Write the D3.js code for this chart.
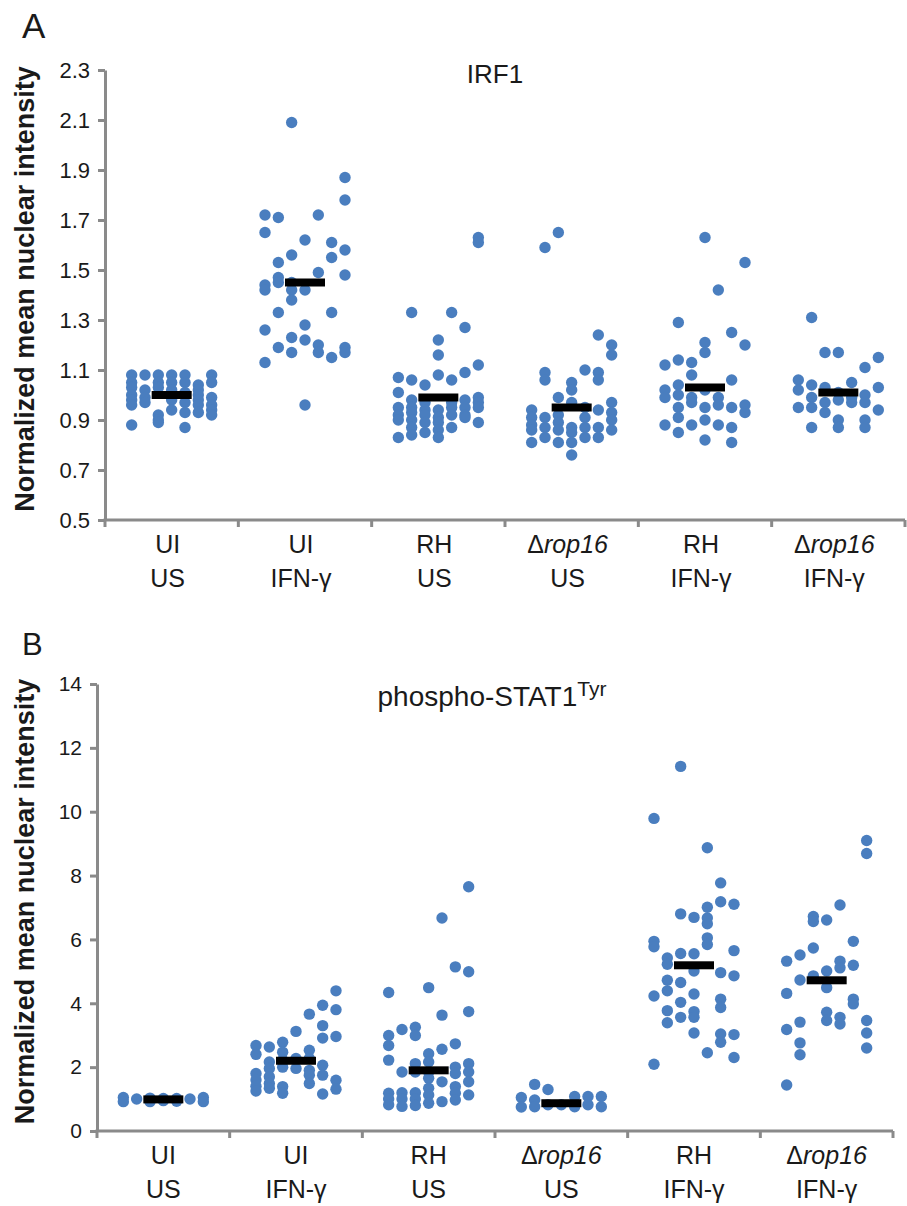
<!DOCTYPE html>
<meta charset="utf-8">
<style>
    body { margin: 0; background: #fff; }
    svg { font-family: "Liberation Sans", Arial, sans-serif; }
    text { fill: #1a1a1a; }
    .axis path, .axis line { stroke: #8a8a8a; stroke-width: 3; fill: none; }
    .dot { fill: #4a7ebf; }
    .mean { fill: #000; }
</style>
<body>
<script src="https://d3js.org/d3.v7.min.js"></script>
<script>
// categories (two-line labels)
var catTop = ["UI", "UI", "RH", "\u0394rop16", "RH", "\u0394rop16"];
var catBottom = ["US", "IFN-\u03b3", "US", "US", "IFN-\u03b3", "IFN-\u03b3"];
// column offsets of the scatter (-3 .. 3) inside each category
var columns = [-3, -2, -1, 0, 1, 2, 3];

// panel A, IRF1: per category, per column, the values
var irf1Values = [
    [[1.08, 1.05, 1.03, 1.00, 0.98, 0.96, 0.88], [1.08, 1.02, 0.99, 0.97], [1.08, 1.05, 1.03, 0.92, 0.90, 0.89],
     [1.08, 1.05, 1.02, 0.98, 0.94], [1.08, 1.05, 1.01, 0.97, 0.93, 0.87], [1.04, 1.02, 1.00, 0.98, 0.96, 0.93],
     [1.08, 1.05, 0.99, 0.96, 0.94, 0.92]],
    [[1.72, 1.65, 1.44, 1.42, 1.26, 1.13], [1.71, 1.53, 1.47, 1.45, 1.33, 1.19], [2.09, 1.56, 1.45, 1.42, 1.38, 1.23, 1.17],
     [1.62, 1.42, 1.28, 1.22, 0.96], [1.72, 1.49, 1.20, 1.17], [1.61, 1.55, 1.33, 1.15],
     [1.87, 1.78, 1.58, 1.48, 1.19, 1.17]],
    [[1.07, 1.01, 0.95, 0.92, 0.90, 0.83], [1.33, 1.06, 0.98, 0.95, 0.93, 0.90, 0.87, 0.84], [1.04, 0.97, 0.94, 0.92, 0.89, 0.85],
     [1.22, 1.16, 1.08, 0.94, 0.91, 0.89, 0.86, 0.83], [1.33, 1.06, 0.97, 0.95, 0.92, 0.87], [1.27, 1.09, 0.98, 0.95, 0.92, 0.91],
     [1.63, 1.61, 1.12, 0.99, 0.97, 0.95, 0.89]],
    [[0.94, 0.91, 0.88, 0.86, 0.81], [1.59, 1.09, 1.06, 0.91, 0.87, 0.83], [1.65, 0.99, 0.92, 0.89, 0.86, 0.81],
     [1.05, 1.02, 0.97, 0.87, 0.85, 0.81, 0.76], [1.10, 0.95, 0.91, 0.87, 0.83], [1.24, 1.09, 1.06, 0.94, 0.87, 0.83],
     [1.20, 1.16, 0.97, 0.93, 0.90, 0.86]],
    [[1.12, 1.02, 0.99, 0.88], [1.29, 1.14, 1.04, 1.00, 0.95, 0.91, 0.85], [1.13, 1.08, 0.99, 0.97, 0.88],
     [1.63, 1.21, 1.17, 1.02, 0.95, 0.90, 0.82], [1.42, 0.99, 0.96, 0.88], [1.25, 1.06, 0.95, 0.87, 0.81],
     [1.53, 1.20, 0.96, 0.93]],
    [[1.06, 1.02, 0.95], [1.31, 1.04, 0.99, 0.95, 0.87], [1.17, 1.03, 0.97, 0.93],
     [1.17, 1.01, 0.98, 0.90, 0.87], [1.05, 0.99, 0.97], [1.11, 1.00, 0.97, 0.90, 0.87],
     [1.15, 1.03, 0.94]]
];
var irf1Means = [1.00, 1.45, 0.99, 0.95, 1.03, 1.01];
var irf1Ticks = [0.5, 0.7, 0.9, 1.1, 1.3, 1.5, 1.7, 1.9, 2.1, 2.3];

// panel B, phospho-STAT1 Tyr
var statValues = [
    [[1.05, 0.92], [1.00], [1.03, 0.92], [1.02, 0.95], [1.02, 0.93], [1.00], [1.05, 0.92]],
    [[2.68, 2.40, 1.80, 1.60, 1.40, 1.25], [2.63, 2.16, 1.96, 1.70, 1.49, 1.34], [2.78, 2.47, 2.22, 2.00, 1.39, 1.18],
     [3.12, 2.27, 1.96], [3.66, 2.53, 2.27, 1.90, 1.75, 1.49], [3.94, 3.30, 2.91, 2.06, 1.75, 1.16],
     [4.39, 3.80, 2.96, 1.59, 1.31]],
    [[4.34, 2.99, 2.68, 2.22, 1.18, 1.00, 0.82], [3.18, 1.85, 1.20, 1.00, 0.77], [3.25, 2.99, 2.11, 1.85, 1.20, 1.00, 0.80],
     [4.49, 2.42, 2.16, 1.85, 1.65, 1.34, 1.13, 0.87], [6.67, 3.63, 2.56, 1.54, 0.92], [5.14, 2.73, 2.00, 1.80, 1.39, 1.18, 0.97],
     [7.65, 4.99, 3.74, 2.11, 1.85, 1.54, 1.13]],
    [[1.05, 0.75], [1.46, 0.97, 0.76], [1.30, 0.82], [0.82], [1.08, 0.76], [1.08, 0.82], [1.08, 0.76]],
    [[9.79, 5.94, 5.77, 4.23, 2.09], [5.42, 5.22, 4.72, 4.39, 3.77, 3.39], [11.42, 6.80, 5.56, 4.65, 4.03, 3.56],
     [6.69, 5.55, 5.01, 4.29, 3.74, 3.56, 3.07], [8.87, 7.01, 6.67, 6.49, 6.05, 5.84, 2.45], [7.77, 7.18, 4.96, 4.13, 3.87, 3.04, 2.78],
     [7.10, 5.65, 4.86, 3.02, 2.30]],
    [[5.32, 4.31, 3.18, 1.44], [5.51, 4.73, 3.41, 2.76, 2.39], [6.72, 6.56, 5.73, 4.86],
     [6.61, 5.01, 4.49, 3.72, 3.46], [7.08, 5.32, 5.11, 3.56, 3.35], [5.94, 5.19, 4.13, 3.98],
     [9.10, 8.69, 3.46, 3.07, 2.60]]
];
var statMeans = [0.99, 2.20, 1.90, 0.87, 5.19, 4.72];
var statTicks = [0, 2, 4, 6, 8, 10, 12, 14];

var svg = d3.select("body").append("svg")
    .attr("width", 907)
    .attr("height", 1206);

function drawPanel(p) {
    var x = d3.scaleBand().domain(d3.range(catTop.length)).range([p.left, p.right]);
    var col = d3.scaleLinear().domain([-3, 3]).range([-40, 40]);
    var y = d3.scaleLinear().domain(p.domain).range([p.bottom, p.top]);
    var g = svg.append("g");

    // panel letter
    g.append("text").attr("x", 22).attr("y", p.letterY)
        .style("font-size", p.letterSize + "px").text(p.letter);

    // y axis
    var yAxis = d3.axisLeft(y).tickValues(p.ticks).tickFormat(p.format)
        .tickSize(7).tickSizeOuter(0).tickPadding(8);
    var ya = g.append("g").attr("class", "axis")
        .attr("transform", "translate(" + p.left + ",0)").call(yAxis);
    ya.selectAll("text").style("font-size", p.tickSize + "px").attr("fill", "#1a1a1a");

    // x axis: baseline with ticks on the category boundaries
    var bounds = x.domain().map(function(d) { return x(d); }).concat([p.right]);
    var xa = g.append("g").attr("class", "axis");
    xa.append("line").attr("x1", p.left - 1.5).attr("x2", p.right)
        .attr("y1", p.bottom).attr("y2", p.bottom);
    xa.selectAll("line.tick").data(bounds).enter().append("line")
        .attr("class", "tick")
        .attr("x1", function(d) { return d; }).attr("x2", function(d) { return d; })
        .attr("y1", p.bottom).attr("y2", p.bottom + 7);

    // category labels
    var lab = g.selectAll("text.cat").data(x.domain()).enter().append("text")
        .attr("class", "cat")
        .attr("text-anchor", "middle")
        .style("font-size", "25px");
    lab.each(function(i) {
        var t = d3.select(this);
        var cx = x(i) + x.bandwidth() / 2 + p.labelShift;
        var top = t.append("tspan").attr("x", cx).attr("y", p.bottom + 33);
        if (catTop[i].charAt(0) === "\u0394") {
            top.append("tspan").text("\u0394");
            top.append("tspan").style("font-style", "italic").text(catTop[i].slice(1));
        } else {
            top.text(catTop[i]);
        }
        t.append("tspan").attr("x", cx).attr("y", p.bottom + 67).text(catBottom[i]);
    });

    // points
    var pts = [];
    p.values.forEach(function(group, gi) {
        group.forEach(function(vals, ci) {
            vals.forEach(function(v) { pts.push({ g: gi, c: columns[ci], v: v }); });
        });
    });
    g.selectAll("circle.dot").data(pts).enter().append("circle")
        .attr("class", "dot")
        .attr("cx", function(d) { return x(d.g) + x.bandwidth() / 2 + col(d.c); })
        .attr("cy", function(d) { return y(d.v); })
        .attr("r", 5.7);

    // mean bars
    g.selectAll("rect.mean").data(p.means).enter().append("rect")
        .attr("class", "mean")
        .attr("x", function(d, i) { return x(i) + x.bandwidth() / 2 - 20; })
        .attr("y", function(d) { return y(d) - 4; })
        .attr("width", 40).attr("height", 8);

    // y label
    g.append("text")
        .attr("transform", "translate(" + p.labelX + "," + ((p.top + p.bottom) / 2 - 6) + ") rotate(-90)")
        .attr("text-anchor", "middle")
        .style("font-size", "27px").style("font-weight", "bold")
        .text("Normalized mean nuclear intensity");

    // title
    var title = g.append("text").attr("x", p.titleX).attr("y", p.titleY)
        .attr("text-anchor", "middle").style("font-size", p.titleSize + "px");
    title.append("tspan").text(p.title);
    if (p.sup) {
        title.append("tspan").attr("dy", -10).style("font-size", "21px").text(p.sup);
    }
}

drawPanel({
    letter: "A", letterY: 38, letterSize: 35,
    left: 105, right: 905, top: 70, bottom: 520,
    domain: [0.5, 2.3], ticks: irf1Ticks, format: d3.format(".1f"), tickSize: 22,
    values: irf1Values, means: irf1Means, labelShift: -4,
    labelX: 34, title: "IRF1", titleX: 495, titleY: 83, titleSize: 26
});

drawPanel({
    letter: "B", letterY: 655, letterSize: 31,
    left: 97, right: 893, top: 684, bottom: 1131,
    domain: [0, 14], ticks: statTicks, format: d3.format("d"), tickSize: 21,
    values: statValues, means: statMeans, labelShift: 0,
    labelX: 34, title: "phospho-STAT1", sup: "Tyr", titleX: 492, titleY: 706, titleSize: 28
});
</script>
